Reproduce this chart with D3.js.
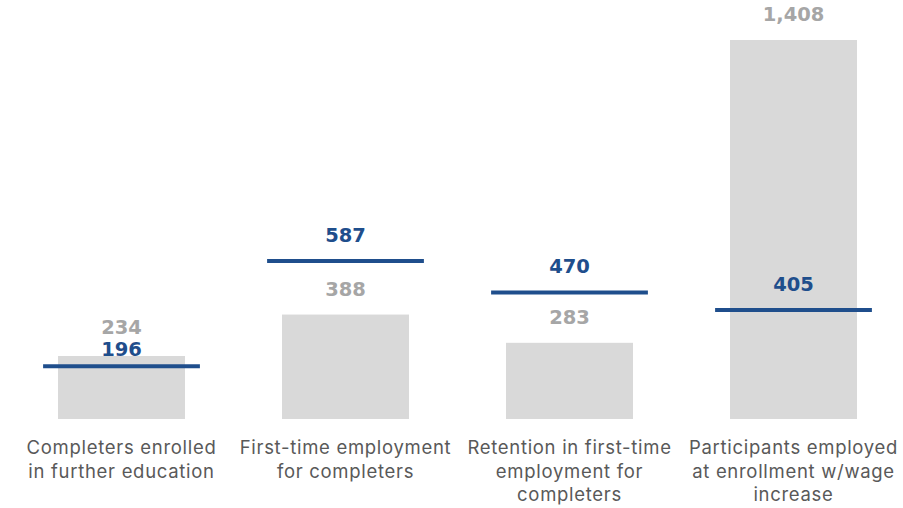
<!DOCTYPE html>
<html>
<head>
<meta charset="utf-8">
<script src="https://cdn.jsdelivr.net/npm/d3@7"></script>
<style>
  html, body { margin: 0; padding: 0; background: #fff; }
  svg { display: block; }
</style>
</head>
<body>
<svg id="chart" width="903" height="508"></svg>
<script>
// Outcome measures: actual counts (bars) against targets (lines)
const categories = [
  "Completers enrolled\nin further education",
  "First-time employment\nfor completers",
  "Retention in first-time\nemployment for\ncompleters",
  "Participants employed\nat enrollment w/wage\nincrease"
];
const actualValues = [234, 388, 283, 1408];
const targetValues = [196, 587, 470, 405];

const W = 903, H = 508;
const margin = { top: 40, bottom: 89, left: 9.5, right: -2.5 };
const svg = d3.select("#chart");

const x = d3.scaleBand()
  .domain(categories)
  .range([margin.left, W - margin.right])
  .padding(0);

const y = d3.scaleLinear()
  .domain([0, d3.max(actualValues.concat(targetValues))])
  .range([H - margin.bottom, margin.top]);

const barW = x.bandwidth() * 0.567;
const lineW = x.bandwidth() * 0.70;
const cx = i => x(categories[i]) + x.bandwidth() / 2;

const grey = "#d9d9d9", greyText = "#a6a6a6", blue = "#1f4e8c", labelColor = "#595959";
const numFont = "'DejaVu Sans', sans-serif";
const labelFont = "Inter, Roboto, sans-serif";

// Bars
svg.append("g").selectAll("rect")
  .data(actualValues)
  .join("rect")
  .attr("x", (d, i) => cx(i) - barW / 2)
  .attr("y", d => y(d))
  .attr("width", barW)
  .attr("height", d => y(0) - y(d))
  .attr("fill", grey);

// Target lines
svg.append("g").selectAll("line")
  .data(targetValues)
  .join("line")
  .attr("x1", (d, i) => cx(i) - lineW / 2)
  .attr("x2", (d, i) => cx(i) + lineW / 2)
  .attr("y1", d => y(d))
  .attr("y2", d => y(d))
  .attr("stroke", blue)
  .attr("stroke-width", 4);

// Value labels: actual above the bar, target above its line;
// when the two would collide, stack them: actual on top, target below it
const fmt = d3.format(",");
const gap = 19;
const collide = actualValues.map((d, i) => Math.abs(y(d) - y(targetValues[i])) < 20);
const actualBase = actualValues.map((d, i) => y(d) - gap - (collide[i] ? 3 : 0));
const targetBase = targetValues.map((d, i) => collide[i] ? actualBase[i] + 22 : y(d) - gap);

svg.append("g").selectAll("text")
  .data(actualValues)
  .join("text")
  .attr("x", (d, i) => cx(i))
  .attr("y", (d, i) => actualBase[i])
  .attr("text-anchor", "middle")
  .attr("font-family", numFont)
  .attr("font-weight", "bold")
  .attr("font-size", 19.5)
  .attr("fill", greyText)
  .text(d => fmt(d));

svg.append("g").selectAll("text")
  .data(targetValues)
  .join("text")
  .attr("x", (d, i) => cx(i))
  .attr("y", (d, i) => targetBase[i])
  .attr("text-anchor", "middle")
  .attr("font-family", numFont)
  .attr("font-weight", "bold")
  .attr("font-size", 19.5)
  .attr("fill", blue)
  .text(d => fmt(d));

// Category labels
const lab = svg.append("g").selectAll("text")
  .data(categories)
  .join("text")
  .attr("text-anchor", "middle")
  .attr("font-family", labelFont)
  .attr("font-size", 18.5)
  .attr("letter-spacing", 0.7)
  .attr("fill", labelColor)
  .attr("transform", (d, i) => `translate(${cx(i)},${y(0) + 35})`);

lab.selectAll("tspan")
  .data(d => d.split("\n"))
  .join("tspan")
  .attr("x", 0)
  .attr("y", (d, i) => i * 23.5)
  .text(d => d);
</script>
</body>
</html>
